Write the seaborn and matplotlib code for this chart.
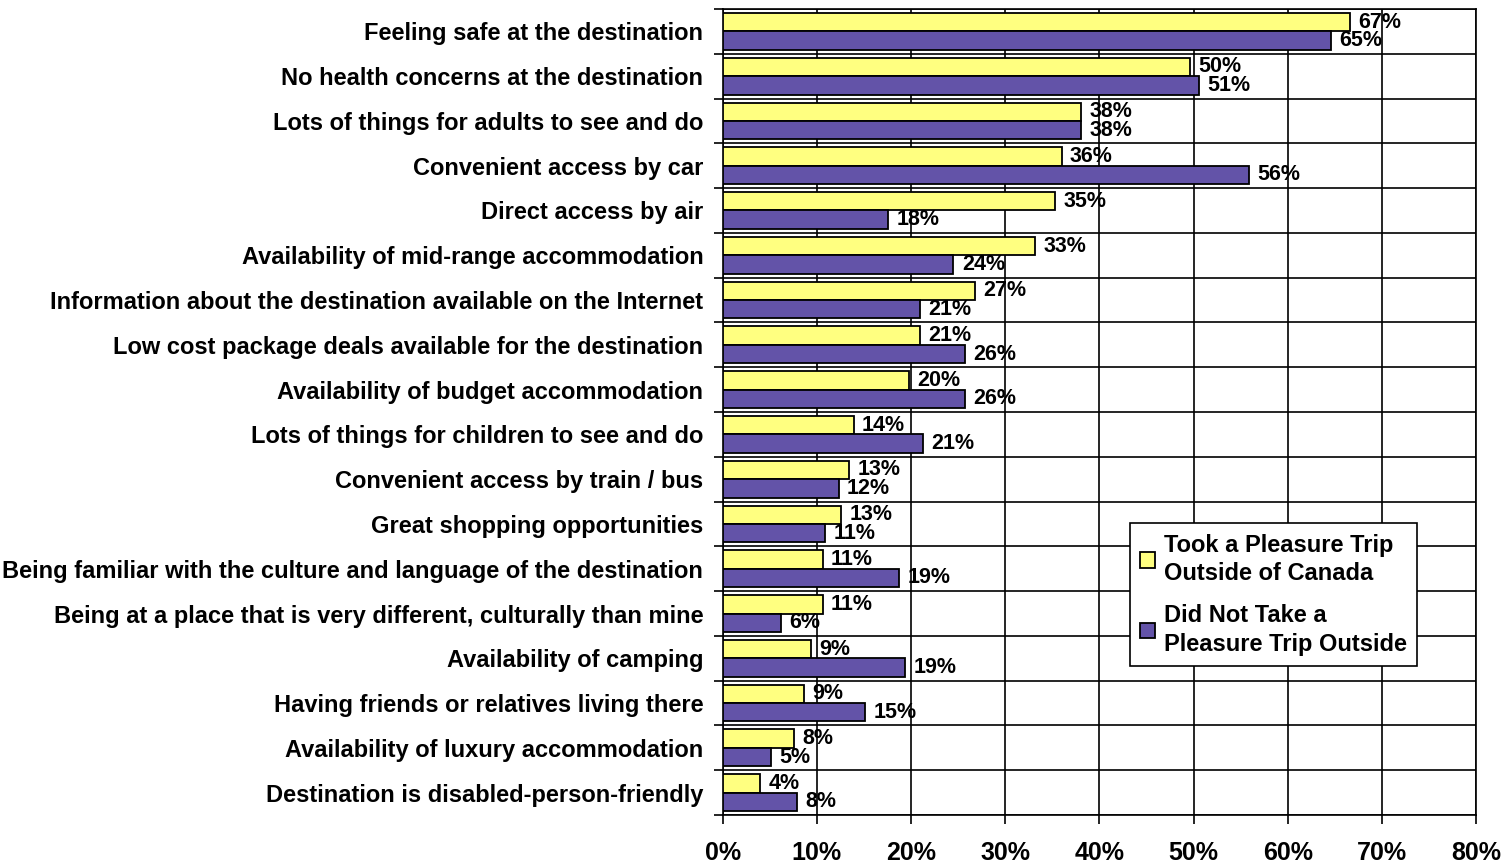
import matplotlib
matplotlib.use('Agg')
import matplotlib.pyplot as plt
import matplotlib.transforms as mtransforms
import numpy as np
import pandas as pd
import seaborn as sns

factors = [
    'Feeling safe at the destination',
    'No health concerns at the destination',
    'Lots of things for adults to see and do',
    'Convenient access by car',
    'Direct access by air',
    'Availability of mid-range accommodation',
    'Information about the destination available on the Internet',
    'Low cost package deals available for the destination',
    'Availability of budget accommodation',
    'Lots of things for children to see and do',
    'Convenient access by train / bus',
    'Great shopping opportunities',
    'Being familiar with the culture and language of the destination',
    'Being at a place that is very different, culturally than mine',
    'Availability of camping',
    'Having friends or relatives living there',
    'Availability of luxury accommodation',
    'Destination is disabled-person-friendly',
]

# bar lengths (percent)
took_trip = [66.6, 49.6, 38.1, 36.0, 35.3, 33.2, 26.8, 20.9, 19.8, 13.9,
             13.4, 12.6, 10.6, 10.6, 9.4, 8.6, 7.6, 4.0]
no_trip = [64.6, 50.6, 38.1, 55.9, 17.6, 24.5, 20.9, 25.7, 25.7, 21.3,
           12.3, 10.9, 18.7, 6.2, 19.4, 15.1, 5.1, 7.9]

series = ['Took a Pleasure Trip\nOutside of Canada',
          'Did Not Take a\nPleasure Trip Outside']
colors = ['#FFFF80', '#6353A8']
xticks = [0, 10, 20, 30, 40, 50, 60, 70, 80]

df = pd.DataFrame({
    'factor': factors * 2,
    'pct': took_trip + no_trip,
    'group': [series[0]] * len(factors) + [series[1]] * len(factors),
})

sns.set_style('white')
plt.rcParams['font.family'] = ['Liberation Sans', 'DejaVu Sans']
plt.rcParams['font.weight'] = 'bold'
plt.rcParams['text.color'] = 'black'
plt.rcParams['axes.labelcolor'] = 'black'
plt.rcParams['xtick.color'] = 'black'
plt.rcParams['ytick.color'] = 'black'

fig, ax = plt.subplots(figsize=(15.12, 8.65), dpi=100)
fig.subplots_adjust(left=0.478, right=0.9762, bottom=0.0578, top=0.9896)

sns.barplot(data=df, y='factor', x='pct', hue='group', orient='h',
            palette=colors, saturation=1, width=0.82, edgecolor='black',
            linewidth=1.3, errorbar=None, ax=ax, zorder=3)

for cont in ax.containers:
    ax.bar_label(cont, labels=[f'{v:.0f}%' for v in cont.datavalues],
                 padding=6, fontsize=15.5, fontweight='bold', color='black',
                 zorder=5)

ax.set_xlim(0, 80)
ax.set_ylim(len(factors) - 0.5, -0.5)
ax.set_xticks(xticks)
ax.set_xticklabels([f'{t}%' for t in xticks], fontsize=18, fontweight='bold')
ax.set_yticks(np.arange(-0.5, len(factors), 1.0), minor=True)
ax.set_xlabel('')
ax.set_ylabel('')
# category names sit a little above the middle of their row
shift = mtransforms.ScaledTranslation(0, 3 / 72, fig.dpi_scale_trans)
for lab in ax.get_yticklabels():
    lab.set_fontsize(17)
    lab.set_fontweight('bold')
    lab.set_transform(lab.get_transform() + shift)

ax.grid(axis='x', which='major', color='black', linewidth=1.2, zorder=0)
ax.grid(axis='y', which='minor', color='black', linewidth=1.2, zorder=0)
ax.set_axisbelow(True)
ax.tick_params(axis='x', which='major', length=6.5, width=1.2, direction='out',
               pad=12, color='black', labelcolor='black', bottom=True)
ax.tick_params(axis='y', which='major', length=0, pad=14, labelcolor='black')
ax.tick_params(axis='y', which='minor', length=6.5, width=1.2, direction='out',
               color='black', left=True)
for sp in ax.spines.values():
    sp.set_color('black')
    sp.set_linewidth(1.2)

handles, labels = ax.get_legend_handles_labels()
leg = ax.legend(handles, labels, loc='upper left', bbox_to_anchor=(0.540, 0.362),
                borderaxespad=0, fontsize=17, frameon=True, fancybox=False,
                edgecolor='black', framealpha=1, handlelength=0.65,
                handleheight=0.65, handletextpad=0.35, labelspacing=0.8,
                borderpad=0.45)
leg.get_frame().set_linewidth(1.2)
for t in leg.get_texts():
    t.set_linespacing(1.3)
    t.set_color('black')
leg.set_zorder(6)

fig.savefig('out.png', dpi=100)
